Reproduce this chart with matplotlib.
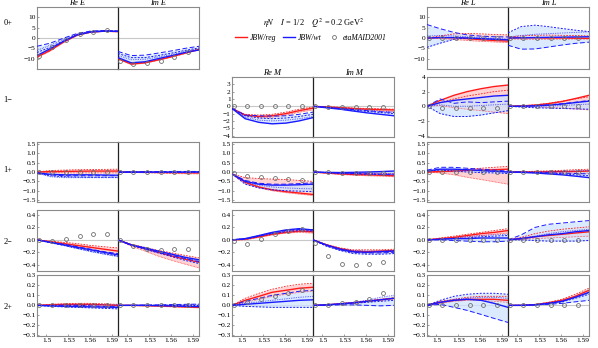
import numpy as np
import matplotlib
matplotlib.use('Agg')
import matplotlib.pyplot as plt
from matplotlib.lines import Line2D

plt.rcParams['font.family'] = ['Liberation Serif', 'DejaVu Serif']
plt.rcParams['mathtext.fontset'] = 'stix'

# energy grid (W in GeV) of the model curves and of the etaMAID points
W = [1.487, 1.505, 1.524, 1.542, 1.561, 1.579, 1.598]
W_maid = [1.490, 1.508, 1.527, 1.546, 1.564, 1.583]
W_ticks = [1.5, 1.53, 1.56, 1.59]
W_ticklabels = ['1.5', '1.53', '1.56', '1.59']

# wt = JBW/wt central, wt_ld / wt_sd / wt_dot = band lines,
# reg = JBW/reg central, reg_a / reg_b = band lines, maid = etaMAID2001
E0p_re = dict(wt=[-8.5, -5.2, -1.5, 1.5, 2.9, 3.3, 3.2], wt_ld=[-4, -2.5, 0, 2.2, 3.4, 3.6, 3.4],
              wt_sd=[-7, -4.5, -1.2, 1.6, 3.0, 3.4, 3.3], wt_dot=[-6, -3.5, -0.5, 1.9, 3.2, 3.5, 3.3],
              reg=[-9.2, -6.0, -1.8, 1.4, 2.9, 3.3, 3.1], reg_a=[-8.8, -5.6, -1.5, 1.6, 3.0, 3.4, 3.2],
              reg_b=[-9.4, -6.3, -2.0, 1.2, 2.8, 3.2, 3.0], maid=[-8.5, -4.4, -1.0, 1.8, 3.1, 3.9])
E0p_im = dict(wt=[-9.5, -12.0, -11.5, -10.0, -8.5, -7.0, -5.8], wt_ld=[-6.5, -8.5, -8.3, -7.3, -6.2, -5.0, -4.0],
              wt_sd=[-7.5, -9.5, -9.5, -8.5, -7.3, -6.0, -4.8], wt_dot=[-8.5, -10.5, -10.3, -9.2, -8.0, -6.5, -5.3],
              reg=[-10.0, -12.6, -12.0, -10.6, -9.0, -7.3, -5.5], reg_a=[-9.8, -12.3, -11.8, -10.4, -8.8, -7.1, -5.4],
              reg_b=[-10.2, -12.8, -12.2, -10.8, -9.2, -7.5, -5.7], maid=[-11.2, -12.8, -12.0, -10.9, -9.1, -6.8])
L0p_re = dict(wt=[0, 0.2, 0.2, 0, -0.3, -0.6, -0.9], wt_ld=[6.5, 4.5, 2.7, 1.5, 0.9, 0.6, 0.5],
              wt_sd=[-4.5, -2.5, -0.6, 0, -0.3, -0.6, -0.8], wt_dot=[1, 1.2, 1.0, 0.6, 0.2, -0.2, -0.5],
              reg=[0, 0.2, 0.1, -0.3, -0.8, -1.2, -1.5], reg_a=[0, 1.0, 2.0, 2.2, 2.0, 1.7, 1.5],
              reg_b=[0, -0.3, -0.7, -1.2, -1.6, -1.9, -2.2], maid=[0, 0, 0, 0, 0, 0])
L0p_im = dict(wt=[0, 0.1, 0.2, 0.3, 0.4, 0.5, 0.6], wt_ld=[-3.5, -5.4, -5.3, -4.4, -3.4, -2.6, -2.0],
              wt_sd=[2.5, 5.5, 6.2, 5.5, 4.6, 3.8, 3.1], wt_dot=[0.5, 1.2, 1.8, 2.1, 2.4, 2.7, 3.0],
              reg=[0, 0.1, 0.1, 0.0, 0.0, -0.1, -0.2], reg_a=[0.5, 1.0, 1.3, 1.4, 1.3, 1.2, 1.0],
              reg_b=[-0.5, -0.6, -0.7, -0.6, -0.6, -0.5, -0.5], maid=[0, 0, 0, 0, 0, 0])

M1m_re = dict(wt=[-0.3, -1.7, -2.2, -2.4, -2.3, -2.0, -1.55], wt_ld=[-0.3, -1.2, -1.3, -1.35, -1.3, -1.1, -0.8],
              wt_sd=[-0.3, -1.3, -1.6, -1.7, -1.6, -1.4, -1.1], wt_dot=[-0.3, -1.5, -1.9, -2.0, -1.9, -1.7, -1.4],
              reg=[-0.3, -1.2, -1.4, -1.3, -1.0, -0.6, -0.25], reg_a=[-0.3, -1.1, -1.2, -1.1, -0.8, -0.4, -0.1],
              reg_b=[-0.3, -1.3, -1.6, -1.5, -1.2, -0.8, -0.5], maid=[0, 0, 0, 0, 0, 0])
M1m_im = dict(wt=[0, -0.2, -0.4, -0.65, -0.9, -1.1, -1.3], wt_ld=[0, -0.15, -0.3, -0.45, -0.6, -0.75, -0.85],
              wt_sd=[0, -0.15, -0.35, -0.55, -0.7, -0.85, -1.0], wt_dot=[0, -0.1, -0.25, -0.4, -0.55, -0.7, -0.8],
              reg=[0, -0.1, -0.2, -0.3, -0.4, -0.45, -0.5], reg_a=[0, -0.05, -0.15, -0.25, -0.3, -0.35, -0.4],
              reg_b=[0, -0.15, -0.3, -0.4, -0.5, -0.6, -0.7], maid=[0, -0.05, -0.1, -0.1, -0.1, -0.1])
L1m_re = dict(wt=[0, 0.5, 0.8, 1.0, 1.2, 1.4, 1.5], wt_ld=[0, 1.0, 0.4, 0.6, 0.5, 0.6, 0.7],
              wt_sd=[0, -1.0, -1.4, -1.4, -1.2, -0.9, -0.6], wt_dot=[0, 0.2, 0.0, 0.0, 0.1, 0.2, 0.3],
              reg=[0, 0.8, 1.5, 2.0, 2.4, 2.7, 2.9], reg_a=[0, 0.5, 1.0, 1.4, 1.7, 2.0, 2.2],
              reg_b=[0, 0.1, -0.2, -0.4, -0.6, -0.8, -1.0], maid=[0, -0.3, -0.3, -0.3, -0.3, -0.3])
L1m_im = dict(wt=[0, 0, 0.05, 0.15, 0.3, 0.5, 0.7], wt_ld=[0, 0, 0.1, 0.2, 0.35, 0.55, 0.8],
              wt_sd=[0, -0.1, -0.2, -0.25, -0.3, -0.35, -0.4], wt_dot=[0, 0, 0.0, 0.05, 0.1, 0.2, 0.3],
              reg=[0, 0.05, 0.15, 0.35, 0.65, 1.05, 1.5], reg_a=[0, 0.05, 0.2, 0.4, 0.7, 1.0, 1.3],
              reg_b=[0, -0.05, -0.1, -0.15, -0.25, -0.35, -0.5], maid=[0, 0, 0, 0, 0, 0])

E1p_re = dict(wt=[-0.05, -0.12, -0.15, -0.15, -0.15, -0.16, -0.17], wt_ld=[-0.05, -0.15, -0.2, -0.2, -0.2, -0.2, -0.2],
              wt_sd=[-0.05, -0.2, -0.25, -0.27, -0.28, -0.28, -0.28], wt_dot=[-0.05, -0.25, -0.3, -0.3, -0.3, -0.3, -0.3],
              reg=[0, 0.02, 0.03, 0.04, 0.05, 0.05, 0.05], reg_a=[0, 0.08, 0.1, 0.12, 0.13, 0.14, 0.15],
              reg_b=[0, -0.03, -0.05, -0.05, -0.05, -0.05, -0.05], maid=[0, 0, 0, 0, 0, 0])
E1p_im = dict(wt=[0, 0, 0, 0, 0, 0, 0.01], wt_ld=[0, 0.01, 0.02, 0.02, 0.03, 0.03, 0.03],
              wt_sd=[0, 0, 0, 0, 0, 0, 0], wt_dot=[0, 0, 0, 0, 0, 0, 0],
              reg=[0, 0, -0.01, -0.02, -0.03, -0.04, -0.05], reg_a=[0, 0, 0, 0, 0, 0, 0],
              reg_b=[0, -0.02, -0.04, -0.06, -0.08, -0.09, -0.1], maid=[0, 0, 0, 0, 0, 0])
M1p_re = dict(wt=[-0.1, -0.5, -0.65, -0.7, -0.7, -0.68, -0.65], wt_ld=[-0.1, -0.45, -0.6, -0.65, -0.65, -0.62, -0.58],
              wt_sd=[-0.1, -0.65, -0.85, -0.95, -1.0, -1.02, -1.05], wt_dot=[-0.1, -0.55, -0.7, -0.8, -0.85, -0.88, -0.9],
              reg=[-0.1, -0.55, -0.8, -0.95, -1.05, -1.12, -1.2], reg_a=[-0.1, -0.3, -0.35, -0.38, -0.4, -0.45, -0.5],
              reg_b=[-0.1, -0.6, -0.85, -1.0, -1.1, -1.18, -1.25], maid=[-0.05, -0.2, -0.25, -0.3, -0.35, -0.4])
M1p_im = dict(wt=[0, -0.02, -0.03, -0.02, 0, 0.02, 0.05], wt_ld=[0, -0.03, -0.06, -0.08, -0.1, -0.12, -0.13],
              wt_sd=[0, -0.04, -0.08, -0.1, -0.12, -0.14, -0.15], wt_dot=[0, -0.02, -0.04, -0.05, -0.06, -0.07, -0.08],
              reg=[0, -0.05, -0.1, -0.13, -0.15, -0.17, -0.2], reg_a=[0, -0.03, -0.05, -0.07, -0.08, -0.09, -0.1],
              reg_b=[0, -0.07, -0.13, -0.17, -0.2, -0.22, -0.25], maid=[0, -0.02, -0.03, -0.05, -0.05, -0.05])
L1p_re = dict(wt=[0.05, 0.15, 0.15, 0.12, 0.08, 0.04, 0.0], wt_ld=[0.1, 0.25, 0.25, 0.2, 0.15, 0.1, 0.05],
              wt_sd=[0.05, 0.1, 0.05, 0.0, -0.03, -0.05, -0.08], wt_dot=[0.05, 0.12, 0.1, 0.08, 0.05, 0.02, 0.0],
              reg=[0, 0.02, 0.05, 0.08, 0.1, 0.12, 0.15], reg_a=[0, 0.05, 0.1, 0.15, 0.2, 0.25, 0.3],
              reg_b=[0, -0.05, -0.15, -0.28, -0.4, -0.52, -0.65], maid=[0, 0, 0, 0, 0, 0])
L1p_im = dict(wt=[0, -0.02, -0.05, -0.1, -0.15, -0.22, -0.3], wt_ld=[0, 0, -0.02, -0.04, -0.06, -0.08, -0.1],
              wt_sd=[0, -0.02, -0.04, -0.06, -0.1, -0.15, -0.2], wt_dot=[0, 0, 0, 0.02, 0.04, 0.06, 0.08],
              reg=[0, 0, 0, 0.01, 0.02, 0.03, 0.05], reg_a=[0, 0.02, 0.04, 0.06, 0.09, 0.12, 0.15],
              reg_b=[0, -0.02, -0.04, -0.05, -0.06, -0.06, -0.06], maid=[0, 0, 0, 0, 0, 0])

E2m_re = dict(wt=[0, -0.04, -0.08, -0.12, -0.16, -0.2, -0.24], wt_ld=[0, -0.035, -0.07, -0.11, -0.15, -0.19, -0.22],
              wt_sd=[0, -0.045, -0.09, -0.135, -0.18, -0.22, -0.26], wt_dot=[0, -0.04, -0.09, -0.14, -0.19, -0.23, -0.27],
              reg=[0, -0.03, -0.06, -0.09, -0.12, -0.15, -0.18], reg_a=[0, -0.02, -0.04, -0.06, -0.09, -0.11, -0.13],
              reg_b=[0, -0.04, -0.08, -0.12, -0.16, -0.2, -0.24], maid=[0, -0.01, 0.02, 0.06, 0.09, 0.1])
E2m_im = dict(wt=[0, -0.08, -0.13, -0.18, -0.23, -0.28, -0.32], wt_ld=[0, -0.08, -0.14, -0.2, -0.25, -0.3, -0.35],
              wt_sd=[0, -0.09, -0.15, -0.21, -0.27, -0.33, -0.38], wt_dot=[0, -0.08, -0.14, -0.19, -0.24, -0.29, -0.34],
              reg=[0, -0.08, -0.14, -0.2, -0.26, -0.31, -0.36], reg_a=[0, -0.07, -0.12, -0.17, -0.21, -0.25, -0.29],
              reg_b=[0, -0.1, -0.18, -0.26, -0.33, -0.39, -0.45], maid=[0, -0.1, -0.15, -0.16, -0.15, -0.15])
M2m_re = dict(wt=[0, 0.02, 0.07, 0.12, 0.16, 0.18, 0.16], wt_ld=[0, 0.01, 0.06, 0.11, 0.15, 0.17, 0.16],
              wt_sd=[0, 0.02, 0.06, 0.1, 0.13, 0.15, 0.14], wt_dot=[0, 0.02, 0.07, 0.12, 0.15, 0.17, 0.15],
              reg=[0, 0.01, 0.05, 0.09, 0.12, 0.14, 0.13], reg_a=[0, 0.01, 0.05, 0.1, 0.14, 0.16, 0.15],
              reg_b=[0, 0.0, 0.04, 0.08, 0.11, 0.12, 0.11], maid=[-0.02, -0.07, 0.02, 0.1, 0.15, 0.17])
M2m_im = dict(wt=[0, -0.08, -0.15, -0.19, -0.2, -0.19, -0.18], wt_ld=[0, -0.09, -0.16, -0.2, -0.21, -0.21, -0.2],
              wt_sd=[0, -0.1, -0.17, -0.22, -0.23, -0.23, -0.22], wt_dot=[0, -0.08, -0.14, -0.17, -0.18, -0.18, -0.17],
              reg=[0, -0.08, -0.14, -0.18, -0.19, -0.18, -0.17], reg_a=[0, -0.07, -0.13, -0.16, -0.16, -0.16, -0.15],
              reg_b=[0, -0.09, -0.16, -0.2, -0.21, -0.2, -0.19], maid=[-0.05, -0.26, -0.39, -0.41, -0.39, -0.36])
L2m_re = dict(wt=[0, 0.01, 0.02, 0.02, 0.03, 0.03, 0.03], wt_ld=[0, 0.0, -0.01, -0.02, -0.03, -0.03, -0.02],
              wt_sd=[0, 0.01, 0.02, 0.03, 0.05, 0.06, 0.07], wt_dot=[0, 0.01, 0.03, 0.05, 0.07, 0.08, 0.09],
              reg=[0, 0.02, 0.04, 0.07, 0.1, 0.12, 0.15], reg_a=[0, 0.03, 0.06, 0.09, 0.12, 0.15, 0.18],
              reg_b=[0, 0.01, 0.03, 0.05, 0.07, 0.09, 0.11], maid=[0, 0, 0, 0, 0, 0])
L2m_im = dict(wt=[0, 0.02, 0.05, 0.08, 0.1, 0.13, 0.15], wt_ld=[0, 0.08, 0.2, 0.25, 0.27, 0.29, 0.31],
              wt_sd=[0, 0.0, -0.01, -0.02, -0.02, -0.02, -0.01], wt_dot=[0, 0.03, 0.06, 0.1, 0.13, 0.15, 0.17],
              reg=[0, 0.02, 0.05, 0.07, 0.09, 0.11, 0.13], reg_a=[0, 0.04, 0.1, 0.14, 0.17, 0.19, 0.21],
              reg_b=[0, 0.01, 0.02, 0.03, 0.04, 0.05, 0.06], maid=[0, 0, 0, 0, 0, 0])

E2p_re = dict(wt=[0, -0.005, -0.01, -0.012, -0.015, -0.018, -0.02], wt_ld=[0, 0, 0, 0, -0.005, -0.01, -0.01],
              wt_sd=[0, -0.01, -0.015, -0.02, -0.025, -0.03, -0.035], wt_dot=[0, 0, 0.005, 0.005, 0.005, 0.005, 0.005],
              reg=[0, 0.005, 0.01, 0.01, 0.01, 0.005, 0], reg_a=[0, 0.01, 0.015, 0.02, 0.02, 0.015, 0.01],
              reg_b=[0, 0, 0, 0, -0.005, -0.01, -0.01], maid=[0, 0, 0, 0, 0, 0])
E2p_im = dict(wt=[0, 0, 0, -0.003, -0.006, -0.01, -0.013], wt_ld=[0, 0, 0.003, 0.005, 0.008, 0.01, 0.012],
              wt_sd=[0, 0, 0, 0, 0, 0, 0], wt_dot=[0, 0, 0.002, 0.004, 0.006, 0.008, 0.01],
              reg=[0, 0, -0.003, -0.006, -0.01, -0.015, -0.02], reg_a=[0, 0, 0, 0, -0.003, -0.006, -0.01],
              reg_b=[0, 0, -0.005, -0.01, -0.015, -0.02, -0.025], maid=[0, 0, 0, 0, 0, 0])
M2p_re = dict(wt=[0, 0.01, 0.02, 0.03, 0.04, 0.05, 0.055], wt_ld=[0, 0.04, 0.07, 0.1, 0.12, 0.14, 0.15],
              wt_sd=[0, -0.01, -0.015, -0.02, -0.02, -0.02, -0.02], wt_dot=[0, 0.02, 0.035, 0.05, 0.065, 0.08, 0.09],
              reg=[0, 0.05, 0.09, 0.13, 0.15, 0.17, 0.18], reg_a=[0, 0.07, 0.12, 0.16, 0.19, 0.21, 0.22],
              reg_b=[0, 0.03, 0.06, 0.09, 0.11, 0.13, 0.14], maid=[0, 0.03, 0.06, 0.09, 0.12, 0.15])
M2p_im = dict(wt=[0, 0.005, 0.015, 0.025, 0.04, 0.055, 0.07], wt_ld=[0, 0, 0.005, 0.005, 0.0, -0.005, 0.0],
              wt_sd=[0, 0.005, 0.01, 0.02, 0.03, 0.04, 0.05], wt_dot=[0, 0.005, 0.015, 0.03, 0.05, 0.08, 0.1],
              reg=[0, 0.005, 0.015, 0.025, 0.04, 0.055, 0.07], reg_a=[0, 0.005, 0.017, 0.03, 0.045, 0.06, 0.075],
              reg_b=[0, 0.004, 0.012, 0.02, 0.035, 0.05, 0.065], maid=[0, 0.005, 0.02, 0.035, 0.06, 0.12])
L2p_re = dict(wt=[0, 0.03, 0.05, 0.06, 0.05, 0.02, -0.02], wt_ld=[0, 0.01, -0.02, -0.05, -0.09, -0.13, -0.17],
              wt_sd=[0, 0.05, 0.09, 0.11, 0.12, 0.12, 0.11], wt_dot=[0, 0.03, 0.06, 0.07, 0.08, 0.08, 0.07],
              reg=[0, 0.03, 0.05, 0.06, 0.06, 0.06, 0.05], reg_a=[0, 0.04, 0.06, 0.08, 0.09, 0.09, 0.09],
              reg_b=[0, 0.02, 0.04, 0.05, 0.05, 0.04, 0.03], maid=[0, 0, 0, 0, 0, 0])
L2p_im = dict(wt=[0, 0.0, 0.005, 0.02, 0.04, 0.08, 0.13], wt_ld=[0, 0, 0.005, 0.01, 0.02, 0.035, 0.05],
              wt_sd=[0, 0, 0.005, 0.015, 0.035, 0.07, 0.11], wt_dot=[0, 0, 0.005, 0.02, 0.04, 0.08, 0.12],
              reg=[0, 0.0, 0.007, 0.025, 0.05, 0.09, 0.15], reg_a=[0, 0.0, 0.01, 0.03, 0.06, 0.11, 0.17],
              reg_b=[0, 0, 0.005, 0.02, 0.04, 0.08, 0.13], maid=[0, 0, 0, 0, 0, 0])

# layout in pixels of the 598x348 figure
FW, FH = 598, 348
col_left = {'E': 37, 'M': 232, 'L': 427}
PW = 81
rows = {'0+': (7, 69), '1-': (77, 137), '1+': (142, 202), '2-': (210, 271), '2+': (275, 336)}
row_label_y = {'0+': 23, '1-': 100, '1+': 170, '2-': 242, '2+': 307}
row_label_txt = {'0+': '0+', '1-': '1\u2212', '1+': '1+', '2-': '2\u2212', '2+': '2+'}

row_ylim = {'0+': (-15, 15), '1-': (-4.2, 4.0), '1+': (-1.6, 1.6), '2-': (-0.5, 0.48), '2+': (-0.305, 0.302)}
row_ticks = {'0+': [-10, -5, 0, 5, 10], '1-': [-4, -3, -2, -1, 0, 1, 2, 3],
             '1+': [-1.5, -1.0, -0.5, 0.0, 0.5, 1.0, 1.5], '2-': [-0.4, -0.2, 0.0, 0.2, 0.4],
             '2+': [-0.3, -0.2, -0.1, 0.0, 0.1, 0.2, 0.3]}
L1m_ticks = [-4, -2, 0, 2, 4]

panels = {
    ('0+', 'E'): (E0p_re, E0p_im), ('0+', 'L'): (L0p_re, L0p_im),
    ('1-', 'M'): (M1m_re, M1m_im), ('1-', 'L'): (L1m_re, L1m_im),
    ('1+', 'E'): (E1p_re, E1p_im), ('1+', 'M'): (M1p_re, M1p_im), ('1+', 'L'): (L1p_re, L1p_im),
    ('2-', 'E'): (E2m_re, E2m_im), ('2-', 'M'): (M2m_re, M2m_im), ('2-', 'L'): (L2m_re, L2m_im),
    ('2+', 'E'): (E2p_re, E2p_im), ('2+', 'M'): (M2p_re, M2p_im), ('2+', 'L'): (L2p_re, L2p_im),
}

RED, BLUE = '#ff1a1a', '#1a1aff'
RED_FILL, BLUE_FILL = '#ffc8c8', '#cfe4ff'
FRAME = '#8a8a8a'


def fmt(v, row):
    if row == '0+' or row == '1-':
        s = '%d' % v
    else:
        s = '%.1f' % v
    return s.replace('-', '\u2212')


def draw(ax, d):
    reg = np.array([d['reg'], d['reg_a'], d['reg_b']])
    wt = np.array([d['wt'], d['wt_ld'], d['wt_sd'], d['wt_dot']])
    ax.axhline(0, color='#c8c8c8', lw=0.8, zorder=1)
    ax.fill_between(W, reg.min(0), reg.max(0), color=RED_FILL, lw=0, alpha=0.8, zorder=2)
    ax.fill_between(W, wt.min(0), wt.max(0), color=BLUE_FILL, lw=0, alpha=0.75, zorder=2)
    ax.plot(W, d['reg_a'], color=RED, lw=0.6, dashes=(2, 1.5), zorder=3)
    ax.plot(W, d['reg_b'], color=RED, lw=0.6, dashes=(0.6, 1.2), zorder=3)
    ax.plot(W, d['reg'], color=RED, lw=1.0, zorder=4)
    ax.plot(W, d['wt_ld'], color=BLUE, lw=0.7, dashes=(5, 2.5), zorder=5)
    ax.plot(W, d['wt_sd'], color=BLUE, lw=0.7, dashes=(2, 1.5), zorder=5)
    ax.plot(W, d['wt_dot'], color=BLUE, lw=0.7, dashes=(0.6, 1.2), zorder=5)
    ax.plot(W, d['wt'], color=BLUE, lw=1.0, zorder=6)
    ax.plot(W_maid, d['maid'], 'o', ms=2.8, mfc='none', mec='#6e6e6e', mew=0.6, zorder=7)


fig = plt.figure(figsize=(FW / 100, FH / 100), dpi=100, facecolor='white')

for (row, col), (d_re, d_im) in panels.items():
    top, bot = rows[row]
    for k, (d, part) in enumerate([(d_re, 'Re'), (d_im, 'Im')]):
        x0 = col_left[col] + k * PW
        ax = fig.add_axes([x0 / FW, 1 - bot / FH, PW / FW, (bot - top) / FH])
        draw(ax, d)
        ax.set_xlim(1.487, 1.598)
        ax.set_ylim(*row_ylim[row])
        for s in ax.spines.values():
            s.set_color(FRAME)
            s.set_linewidth(0.8)
        if k == 1:
            ax.spines['left'].set_color('#222222')
            ax.spines['left'].set_linewidth(0.9)
        else:
            ax.spines['right'].set_visible(False)
        ticks = L1m_ticks if (row == '1-' and col == 'L') else row_ticks[row]
        if k == 0:
            ax.set_yticks(ticks)
            ax.set_yticklabels([fmt(t, row) for t in ticks])
        else:
            ax.set_yticks([])
        ax.tick_params(axis='y', direction='in', length=1.5, width=0.4, labelsize=5.3, pad=1,
                       color='#555555')
        if row == '2+':
            ax.set_xticks(W_ticks)
            ax.set_xticklabels(W_ticklabels)
            ax.tick_params(axis='x', direction='in', length=1.5, width=0.4, labelsize=5.3, pad=1.5,
                           color='#555555')
        else:
            ax.set_xticks([])
        # panel titles above the top panel of each column
        first_row = {'E': '0+', 'M': '1-', 'L': '0+'}[col]
        if row == first_row:
            ax.set_title('%s %s' % (part, col), fontsize=6, style='italic', pad=1.0)

for row in rows:
    fig.text(8 / FW, 1 - row_label_y[row] / FH, row_label_txt[row], fontsize=6,
             ha='center', va='center')

fig.text(314 / FW, 1 - 23 / FH, r'$\eta N$    $I$ = 1/2    $Q^2$ = 0.2 GeV$^2$',
         fontsize=6, ha='center', va='center')
handles = [Line2D([], [], color=RED, lw=1.0), Line2D([], [], color=BLUE, lw=1.0),
           Line2D([], [], ls='none', marker='o', ms=2.8, mfc='none', mec='#6e6e6e', mew=0.6)]
fig.legend(handles, ['JBW/reg', 'JBW/wt', 'etaMAID2001'], loc='center',
           bbox_to_anchor=(311 / FW, 1 - 38 / FH), ncol=3, frameon=False,
           prop={'size': 5.5, 'style': 'italic'}, handlelength=1.6, handletextpad=0.4,
           columnspacing=0.8)

fig.savefig('out.png', dpi=100, facecolor='white')
